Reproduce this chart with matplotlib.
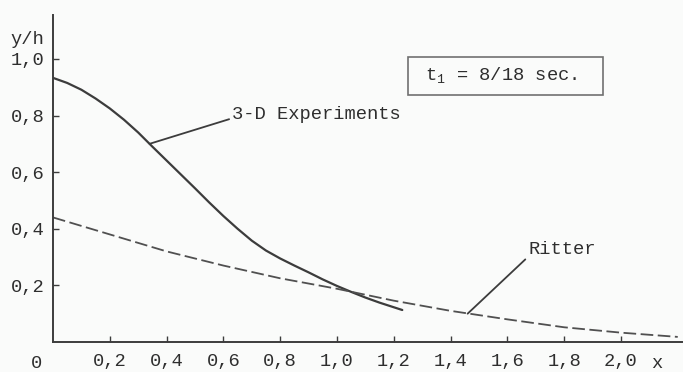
import matplotlib.pyplot as plt
from matplotlib.patches import Rectangle

# 3-D experiment surface profile
exp_x = [0.0, 0.05, 0.1, 0.15, 0.2, 0.25, 0.3, 0.35, 0.4, 0.45, 0.5, 0.55, 0.6,
         0.65, 0.7, 0.75, 0.8, 0.85, 0.9, 0.95, 1.0, 1.05, 1.1, 1.15, 1.23]
exp_y = [0.933, 0.915, 0.891, 0.86, 0.825, 0.785, 0.74, 0.69, 0.641, 0.592, 0.543,
         0.493, 0.445, 0.40, 0.358, 0.323, 0.295, 0.27, 0.246, 0.221, 0.198, 0.177,
         0.157, 0.139, 0.113]

# Ritter dam-break solution
ritter_x = [0.0, 0.2, 0.4, 0.6, 0.8, 1.0, 1.2, 1.4, 1.6, 1.8, 2.0, 2.2]
ritter_y = [0.44, 0.38, 0.32, 0.27, 0.225, 0.188, 0.146, 0.11, 0.08, 0.052, 0.033, 0.018]

xticks = [0.2, 0.4, 0.6, 0.8, 1.0, 1.2, 1.4, 1.6, 1.8, 2.0]
xlabels = ["0,2", "0,4", "0,6", "0,8", "1,0", "1,2", "1,4", "1,6", "1,8", "2,0"]
yticks = [0.2, 0.4, 0.6, 0.8, 1.0]
ylabels = ["0,2", "0,4", "0,6", "0,8", "1,0"]

mono = ["Liberation Mono", "DejaVu Sans Mono"]
plt.rcParams["font.family"] = mono
plt.rcParams["mathtext.fontset"] = "custom"
plt.rcParams["mathtext.rm"] = "Liberation Mono"
fs = 13.5
ink = "#3c3c3c"
txt = "#2e2e2e"

fig = plt.figure(figsize=(6.83, 3.72), dpi=100, facecolor="#fafbfa")
ax = fig.add_axes([53 / 683, 30 / 372, 629 / 683, 327 / 372])
ax.set_facecolor("#fafbfa")
ax.set_xlim(0, 2.215)
ax.set_ylim(0, 1.155)

ax.plot(exp_x, exp_y, color=ink, lw=1.6, solid_capstyle="round")
ax.plot(ritter_x, ritter_y, color="#505050", lw=1.3, dashes=(7, 2.5))

for s in ["top", "right"]:
    ax.spines[s].set_visible(False)
for s in ["left", "bottom"]:
    ax.spines[s].set_color(ink)
    ax.spines[s].set_linewidth(1.4)

ax.set_xticks(xticks)
ax.set_xticklabels(xlabels)
ax.set_yticks(yticks)
ax.set_yticklabels(ylabels)
ax.tick_params(direction="in", length=4, width=1, colors=ink, labelsize=fs,
               labelcolor=txt)
ax.tick_params(axis="x", pad=8)
ax.tick_params(axis="y", pad=6)

# origin label and axis names
ax.text(-0.04, -0.075, "0", ha="right", va="center", fontsize=fs, color=txt,
        clip_on=False)
ax.text(2.125, -0.075, "x", ha="center", va="center", fontsize=fs, color=txt,
        clip_on=False)
ax.text(-0.03, 1.07, "y/h", ha="right", va="center", fontsize=fs, color=txt,
        clip_on=False)

ax.annotate("3-D Experiments", xy=(0.34, 0.70), xytext=(0.63, 0.802),
            fontsize=fs, color=txt, va="center", ha="left",
            arrowprops=dict(arrowstyle="-", color=ink, lw=1.3,
                            shrinkA=0, shrinkB=0, relpos=(0, 0.3)))
ax.annotate("Ritter", xy=(1.46, 0.10), xytext=(1.673, 0.325),
            fontsize=fs, color=txt, va="center", ha="left",
            arrowprops=dict(arrowstyle="-", color=ink, lw=1.3,
                            shrinkA=0, shrinkB=0, relpos=(0, 0.1)))

ax.add_patch(Rectangle((1.25, 0.873), 0.687, 0.134, fill=False,
                       edgecolor="#707070", lw=1.2))
ax.text(1.31, 0.94, r"t$_\mathrm{1}$ = 8/18 sec.", fontsize=fs, color=txt,
        va="center", ha="left")

fig.savefig("out.png", dpi=100, facecolor=fig.get_facecolor())
